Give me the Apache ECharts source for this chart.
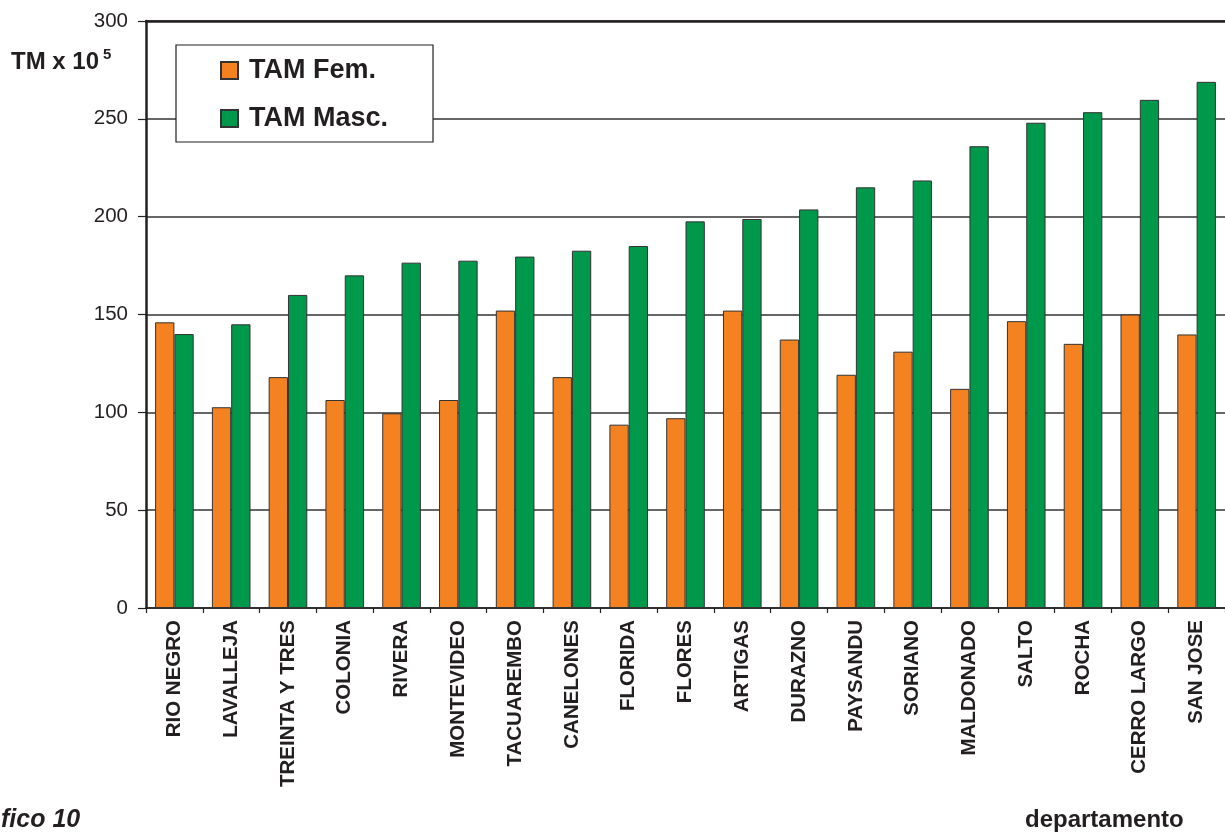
<!DOCTYPE html>
<html>
<head>
<meta charset="utf-8">
<script src="https://cdn.jsdelivr.net/npm/echarts@6/dist/echarts.min.js"></script>
<style>
html,body{margin:0;padding:0;background:#fff;}
#chart{width:1225px;height:834px;}
</style>
</head>
<body>
<div id="chart"></div>
<script>
const categories = ['RIO NEGRO','LAVALLEJA','TREINTA Y TRES','COLONIA','RIVERA','MONTEVIDEO','TACUAREMBO','CANELONES','FLORIDA','FLORES','ARTIGAS','DURAZNO','PAYSANDU','SORIANO','MALDONADO','SALTO','ROCHA','CERRO LARGO','SAN JOSE'];
const tamFem = [146, 102.6, 118, 106.3, 99.5, 106.3, 152, 118, 93.7, 97, 152, 137.2, 119.2, 131, 112, 146.6, 135, 150, 139.8];
const tamMasc = [140, 145, 160, 170, 176.5, 177.5, 179.6, 182.6, 185, 197.6, 198.8, 203.7, 215, 218.5, 236, 248, 253.4, 259.7, 268.9];
const yTicks = [0, 50, 100, 150, 200, 250, 300];

const chart = echarts.init(document.getElementById('chart'));
const font = '"Liberation Sans", Arial, sans-serif';
const ink = '#231f20';
chart.setOption({
  animation: false,
  backgroundColor: '#fff',
  textStyle: { fontFamily: font },
  grid: { left: 146, right: -8, top: 21, bottom: 226, containLabel: false },
  legend: {
    orient: 'vertical',
    left: 176, top: 45,
    padding: [12, 45, 10, 44],
    itemGap: 21,
    itemWidth: 17, itemHeight: 17,
    icon: 'rect',
    backgroundColor: '#fff',
    borderColor: ink, borderWidth: 1.2,
    textStyle: { fontSize: 27, fontWeight: 'bold', color: ink, fontFamily: font, padding: [0, 0, 0, 6] },
    data: ['TAM Fem.', 'TAM Masc.']
  },
  xAxis: [{
    type: 'category',
    data: categories,
    axisLine: { lineStyle: { color: ink, width: 1.5 } },
    axisTick: { show: true, length: 5, lineStyle: { color: ink, width: 1.2 } },
    axisLabel: { rotate: 90, margin: 12, fontSize: 20.5, fontWeight: 'bold', color: ink, fontFamily: font, interval: 0 }
  }, {
    type: 'category',
    position: 'top',
    data: categories,
    axisLine: { lineStyle: { color: ink, width: 2.5 } },
    axisTick: { show: false },
    axisLabel: { show: false }
  }],
  yAxis: {
    type: 'value',
    min: yTicks[0], max: yTicks[yTicks.length - 1], interval: 50,
    axisLine: { show: true, lineStyle: { color: ink, width: 2.5 } },
    axisTick: { show: true, length: 8, lineStyle: { color: ink, width: 1.2 } },
    axisLabel: { margin: 18, fontSize: 20.5, color: ink, fontFamily: font },
    splitLine: { show: true, lineStyle: { color: '#333', width: 1.5 } }
  },
  series: [{
    name: 'TAM Fem.', type: 'bar', data: tamFem,
    barWidth: '34%', barGap: '0%',
    itemStyle: { color: '#F58220', borderColor: '#333', borderWidth: 1 }
  }, {
    name: 'TAM Masc.', type: 'bar', data: tamMasc,
    barWidth: '34%', barGap: '0%',
    itemStyle: { color: '#00984A', borderColor: '#333', borderWidth: 1 }
  }],
  graphic: [
    { type: 'text', left: 11, top: 50, style: { text: 'TM x 10', font: 'bold 24px ' + font, fill: ink } },
    { type: 'text', left: 103, top: 47, style: { text: '5', font: 'bold 15px ' + font, fill: ink } },
    { type: 'text', left: 1, top: 808, style: { text: 'fico 10', font: 'italic bold 25px ' + font, fill: ink } },
    { type: 'text', left: 1025, top: 808, style: { text: 'departamento', font: 'bold 24px ' + font, fill: ink } }
  ]
});
</script>
</body>
</html>
